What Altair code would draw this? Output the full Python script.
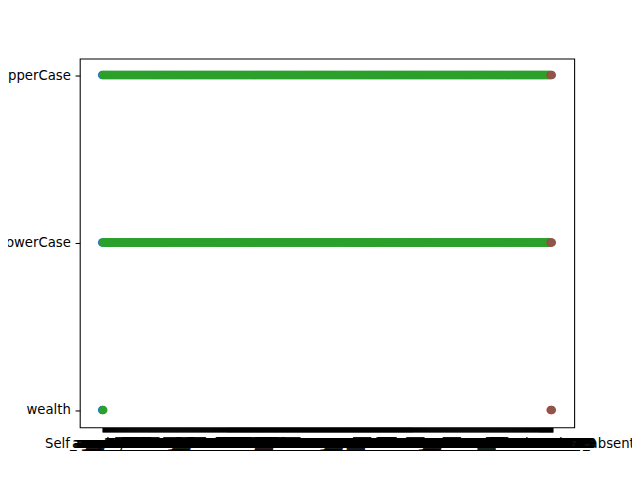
import altair as alt
import pandas as pd

# y categories, top to bottom
y_levels = ["upperCase", "lowerCase", "wealth"]

# x categories: column names (far too many to read in the picture)
first_col = "Self_employment"
last_col = "weeks_since_last_absent"
stems = ["age", "sex", "edu", "income", "hh_size", "region", "urban", "married",
         "kids", "health", "job", "sector", "hours", "wage", "tenure", "union",
         "pension", "loan", "savings", "rent", "own_home", "car", "tv", "phone",
         "internet"]
waves = ["1_17", "2_17", "3_17", "4_17", "5_17", "6_17",
         "1_18", "2_18", "3_18", "4_18", "5_18", "6_18",
         "1_19", "2_19", "3_19", "4_19", "5_19", "6_19"]
x_cols = [first_col] + [f"{s}_{w}" for s in stems for w in waves] + [last_col]

# which columns each coloured series hits, per y level
blue_cols = {"upperCase": x_cols[:1], "lowerCase": x_cols[:1], "wealth": x_cols[:1]}
green_cols = {"upperCase": x_cols[1:-2], "lowerCase": x_cols[1:-2], "wealth": x_cols[1:2]}
red_cols = {"upperCase": x_cols[-2:-1], "lowerCase": x_cols[-2:-1], "wealth": x_cols[-2:-1]}
brown_cols = {"upperCase": x_cols[-1:], "lowerCase": x_cols[-1:], "wealth": x_cols[-1:]}

series = [("blue", blue_cols), ("green", green_cols), ("red", red_cols), ("brown", brown_cols)]
colors = ["#1f77b4", "#2ca02c", "#d62728", "#8c564b"]

rows = []
for name, cols in series:
    for lev in y_levels:
        for c in cols[lev]:
            rows.append({"x": c, "y": lev, "s": name})
df = pd.DataFrame(rows)

ax_style = dict(
    labelFont="DejaVu Sans", labelFontSize=13.3, labelColor="black",
    tickColor="black", tickSize=4.7, labelPadding=4.7,
    domain=False, grid=False, title=None, labelOverlap=False,
    labelFlush=False, labelBound=False, labelAngle=0,
)

chart = (
    alt.Chart(df)
    .mark_circle(size=74, opacity=1)
    .encode(
        alt.X("x:N", scale=alt.Scale(type="point", domain=x_cols, range=[22.5, 473.5], padding=0))
        .axis(labelLimit=400, tickWidth=1.6, **ax_style),
        alt.Y("y:N", scale=alt.Scale(type="point", domain=y_levels, range=[16.5, 352.5], padding=0))
        .axis(tickWidth=1.07, **ax_style),
        alt.Color("s:N", scale=alt.Scale(domain=[s for s, _ in series], range=colors), legend=None),
    )
    .properties(
        width=496, height=370,
        background="white",
        autosize=alt.AutoSizeParams(type="none"),
        padding={"left": 72, "top": 50, "right": 58, "bottom": 45},
    )
    .configure_view(stroke="black", strokeWidth=1.07)
)

chart.save("out.html", embed_options={"renderer": "svg", "actions": False})
